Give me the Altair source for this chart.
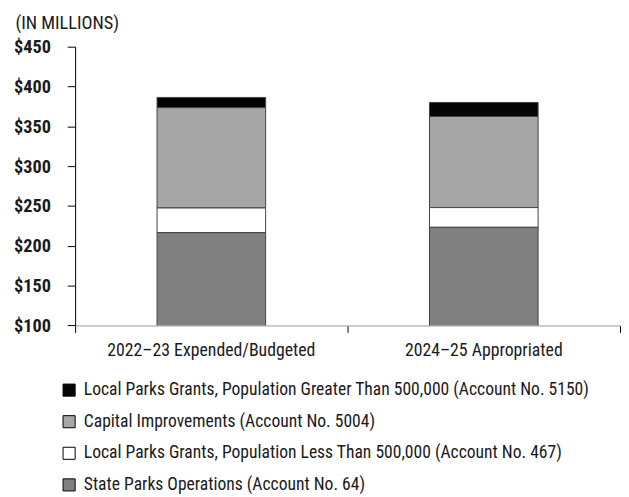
import altair as alt
import pandas as pd

periods = ["2022\u201323 Expended/Budgeted", "2024\u201325 Appropriated"]
series = [
    "Local Parks Grants, Population Greater Than 500,000 (Account No. 5150)",
    "Capital Improvements (Account No. 5004)",
    "Local Parks Grants, Population Less Than 500,000 (Account No. 467)",
    "State Parks Operations (Account No. 64)",
]
colors = ["#050505", "#a6a6a6", "#ffffff", "#808080"]
stack_rank = [4, 3, 2, 1]  # 1 = bottom of stack
values_2022 = [12.8, 126.0, 31.0, 216.5]
values_2024 = [17.6, 114.4, 24.8, 223.2]
y_ticks = [100, 150, 200, 250, 300, 350, 400, 450]

rows = []
for s, r, a, b in zip(series, stack_rank, values_2022, values_2024):
    rows.append({"period": periods[0], "series": s, "rank": r, "value": a})
    rows.append({"period": periods[1], "series": s, "rank": r, "value": b})
df = pd.DataFrame(rows)

FONT = "Roboto Condensed"
TXT = "#1a1a1a"
W, H = 552, 282.4

bars = alt.Chart(df).mark_bar(size=110, stroke="#404040", strokeWidth=1, clip=True).encode(
    x=alt.X("period:N", sort=periods, title=None,
            scale=alt.Scale(paddingInner=0, paddingOuter=0),
            axis=alt.Axis(labelAngle=0, bandPosition=1, tickExtra=True, tickSize=7,
                          tickColor="black", domainColor="#999999", labelPadding=9,
                          labelFontSize=18, labelColor=TXT, labelFont=FONT,
                          labelFontWeight="normal", labelLimit=300)),
    y=alt.Y("value:Q", stack="zero",
            scale=alt.Scale(domain=[100, 450], nice=False, zero=False),
            axis=alt.Axis(values=y_ticks,
                          labelExpr="'$' + datum.value", tickSize=8, tickColor="black",
                          domainColor="black", labelPadding=17, labelFontSize=18.5,
                          labelFont=FONT, labelColor=TXT, labelFontWeight="bold", grid=False,
                          title="(IN MILLIONS)", titleAngle=0, titleX=-61, titleY=-24,
                          titleAlign="left", titleBaseline="middle", titleFont=FONT,
                          titleFontSize=18.5, titleFontWeight="normal", titleColor=TXT)),
    color=alt.Color("series:N", sort=series,
                    scale=alt.Scale(domain=series, range=colors),
                    legend=alt.Legend(title=None, orient="none", legendX=-15, legendY=339,
                                      direction="vertical", symbolType="square", symbolSize=150,
                                      symbolStrokeColor="black", symbolStrokeWidth=1,
                                      symbolOpacity=1, labelFont=FONT, labelFontSize=17.8,
                                      labelFontWeight="normal",
                                      labelColor=TXT, labelOffset=6, rowPadding=13,
                                      padding=0, labelLimit=700)),
    order=alt.Order("rank:Q", sort="ascending"),
)

chart = bars.properties(
    width=W, height=H,
    autosize=alt.AutoSizeParams(type="none"),
    padding={"left": 68, "top": 36, "right": 1, "bottom": 174},
).configure_view(stroke=None).configure_axis(grid=False)

chart.save("out.html", embed_options={"renderer": "svg", "actions": False})
